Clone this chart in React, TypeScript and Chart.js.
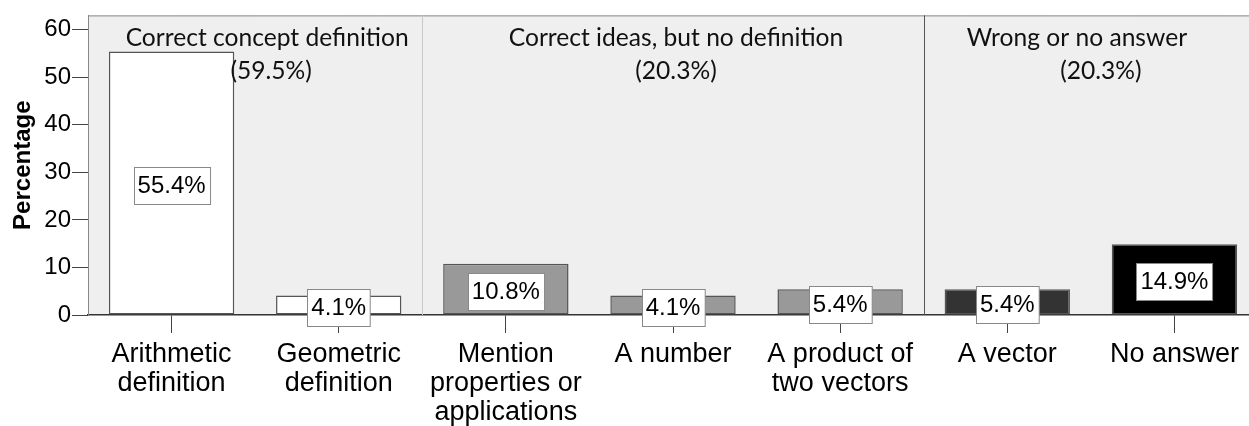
import React, { useEffect, useRef } from "react";
import { Chart, registerables } from "chart.js";

Chart.register(...registerables);

const categories: (string | string[])[] = [
  ["Arithmetic", "definition"],
  ["Geometric", "definition"],
  ["Mention", "properties or", "applications"],
  "A number",
  ["A product of", "two vectors"],
  "A vector",
  "No answer",
];
const percentages = [55.4, 4.1, 10.8, 4.1, 5.4, 5.4, 14.9];
const valueLabels = ["55.4%", "4.1%", "10.8%", "4.1%", "5.4%", "5.4%", "14.9%"];
const groupTitles = ["Correct concept definition", "Correct ideas, but no definition", "Wrong or no answer"];
const groupShares = ["(59.5%)", "(20.3%)", "(20.3%)"];
const groupSizes = [2, 3, 2];
const yTicks = [0, 10, 20, 30, 40, 50, 60];

const barFills = ["#ffffff", "#ffffff", "#999999", "#999999", "#999999", "#333333", "#000000"];
const dividerColors = ["#c8c8c8", "#555555"];
const titleOffsets = [12, 3, -14];
const shareOffsets = [16, 3, 10];

const framePlugin = {
  id: "frame",
  beforeDraw(chart: any) {
    const { ctx, chartArea } = chart;
    ctx.save();
    ctx.fillStyle = "#efefef";
    ctx.fillRect(chartArea.left, chartArea.top, chartArea.right - chartArea.left, chartArea.bottom - chartArea.top);
    ctx.strokeStyle = "#888888";
    ctx.lineWidth = 1;
    ctx.beginPath();
    ctx.moveTo(chartArea.left, chartArea.top + 0.5);
    ctx.lineTo(chartArea.right, chartArea.top + 0.5);
    ctx.stroke();
    ctx.restore();
  },
  afterDatasetsDraw(chart: any) {
    const { ctx, chartArea } = chart;
    const xs = chart.scales.x;
    const ys = chart.scales.y;
    ctx.save();
    let start = 0;
    const edges: number[] = [];
    for (let g = 0; g < groupSizes.length; g++) {
      const first = start;
      const last = start + groupSizes[g] - 1;
      const half = (xs.getPixelForValue(1) - xs.getPixelForValue(0)) / 2;
      const left = xs.getPixelForValue(first) - half;
      const right = xs.getPixelForValue(last) + half;
      edges.push(right);
      const cx = (left + right) / 2;
      ctx.fillStyle = "#111111";
      ctx.font = "24.6px Lato";
      ctx.textAlign = "center";
      ctx.textBaseline = "middle";
      ctx.fillText(groupTitles[g], cx + titleOffsets[g], chartArea.top + 23);
      ctx.fillText(groupShares[g], cx + shareOffsets[g], chartArea.top + 56);
      start += groupSizes[g];
    }
    for (let i = 0; i < edges.length - 1; i++) {
      const x = Math.round(edges[i]) + 0.5;
      ctx.strokeStyle = dividerColors[i];
      ctx.lineWidth = 1;
      ctx.beginPath();
      ctx.moveTo(x, chartArea.top);
      ctx.lineTo(x, chartArea.bottom);
      ctx.stroke();
    }
    const meta = chart.getDatasetMeta(0);
    ctx.font = "24px Arial, 'Liberation Sans'";
    ctx.textAlign = "center";
    ctx.textBaseline = "middle";
    meta.data.forEach((bar: any, i: number) => {
      const txt = valueLabels[i];
      const w = ctx.measureText(txt).width + 8;
      const h = 37;
      const cy = ys.getPixelForValue(percentages[i] / 2) + 2;
      const x0 = Math.round(bar.x - w / 2) + 0.5;
      const y0 = Math.round(cy - h / 2) + 0.5;
      ctx.fillStyle = "#ffffff";
      ctx.fillRect(x0, y0, w, h);
      ctx.strokeStyle = "#888888";
      ctx.lineWidth = 1;
      ctx.strokeRect(x0, y0, w, h);
      ctx.fillStyle = "#000000";
      ctx.fillText(txt, bar.x, cy + 1);
    });
    ctx.restore();
  },
};

export default function App() {
  const ref = useRef<HTMLCanvasElement>(null);
  useEffect(() => {
    if (!ref.current) return;
    const chart = new Chart(ref.current, {
      type: "bar",
      data: {
        labels: categories,
        datasets: [
          {
            data: percentages,
            backgroundColor: barFills,
            borderColor: "#555555",
            borderWidth: 1.5,
            borderSkipped: false,
            barPercentage: 0.75,
            categoryPercentage: 1,
          },
        ],
      },
      options: {
        responsive: false,
        animation: false,
        devicePixelRatio: 1,
        layout: { padding: { top: 13, left: 0, right: 0, bottom: 0 } },
        plugins: { legend: { display: false }, tooltip: { enabled: false } },
        scales: {
          x: {
            grid: { drawOnChartArea: false, offset: false, tickLength: 18, color: "#444444" },
            border: { color: "#333333", width: 1.5 },
            ticks: {
              color: "#000000",
              font: { family: "Arial, 'Liberation Sans'", size: 27, lineHeight: 1.08 },
              padding: 7,
              maxRotation: 0,
              autoSkip: false,
            },
            afterFit: (s: any) => {
              s.height = 111;
            },
          },
          y: {
            min: 0,
            max: 63,
            afterBuildTicks: (s: any) => {
              s.ticks = yTicks.map((v) => ({ value: v }));
            },
            grid: { drawOnChartArea: false, tickLength: 16, color: "#444444" },
            border: { color: "#888888", width: 1 },
            ticks: {
              color: "#000000",
              font: { family: "Arial, 'Liberation Sans'", size: 24 },
              padding: 1,
            },
            title: {
              display: true,
              text: "Percentage",
              color: "#000000",
              font: { family: "Arial, 'Liberation Sans'", size: 24, weight: "bold" },
              padding: { top: 9, bottom: 0 },
            },
            afterFit: (s: any) => {
              s.width = 88;
            },
          },
        },
      },
      plugins: [framePlugin],
    });
    return () => chart.destroy();
  }, []);
  return (
    <div
      style={{
        position: "fixed",
        left: 0,
        top: 0,
        width: 1249,
        height: 426,
        overflow: "hidden",
        background: "#ffffff",
      }}
    >
      <canvas ref={ref} width={1258} height={426} style={{ width: 1258, height: 426 }} />
    </div>
  );
}
